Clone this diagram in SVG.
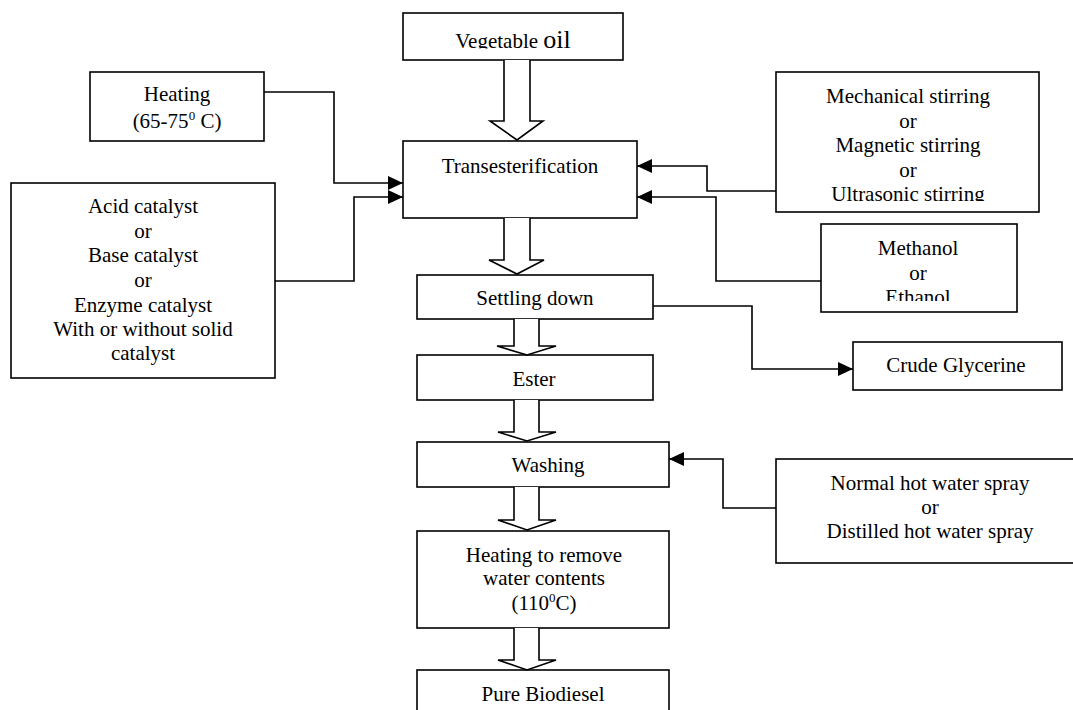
<svg xmlns="http://www.w3.org/2000/svg" width="1073" height="710" viewBox="0 0 1073 710">
<style>
.box{fill:#fff;stroke:#000;stroke-width:1.6}
.t{font-family:'Liberation Serif','DejaVu Serif',serif;font-size:21px;fill:#000;text-anchor:middle}
.c{fill:none;stroke:#000;stroke-width:1.6}
.h{fill:#fff;stroke:#000;stroke-width:1.6;stroke-linejoin:miter}
.sup{font-size:13px}
</style>
<defs>
<marker id="ah" markerUnits="userSpaceOnUse" markerWidth="15" markerHeight="14" viewBox="0 0 15 14" refX="15" refY="7" orient="auto">
<path d="M0,0 L15,7 L0,14 z" fill="#000"/>
</marker>
<clipPath id="cVeg"><rect x="403" y="13" width="220" height="35.5"/></clipPath>
<clipPath id="cMech"><rect x="776" y="72" width="263" height="129"/></clipPath>
<clipPath id="cMeth"><rect x="821" y="224" width="196" height="77"/></clipPath>
</defs>
<rect width="1073" height="710" fill="#fff"/>

<g id="vegetable-oil">
<rect class="box" x="403" y="13" width="220" height="47"/>
<text class="t" x="513" y="48" clip-path="url(#cVeg)">Vegetable <tspan font-size="26">oil</tspan></text>
</g>
<g id="heating">
<rect class="box" x="90" y="72" width="174" height="69"/>
<text class="t" x="177" y="101">Heating</text>
<text class="t" x="177" y="128">(65-75<tspan class="sup" dy="-8">0</tspan><tspan dy="8"> C)</tspan></text>
</g>
<g id="transesterification">
<rect class="box" x="403" y="141" width="234" height="77"/>
<text class="t" x="520" y="173">Transesterification</text>
</g>
<g id="catalyst">
<rect class="box" x="11" y="183" width="264" height="195"/>
<text class="t" x="143" y="213">Acid catalyst</text>
<text class="t" x="143" y="237.5">or</text>
<text class="t" x="143" y="262">Base catalyst</text>
<text class="t" x="143" y="286.5">or</text>
<text class="t" x="143" y="311.5">Enzyme catalyst</text>
<text class="t" x="143" y="336">With or without solid</text>
<text class="t" x="143" y="360">catalyst</text>
</g>
<g id="stirring">
<rect class="box" x="776" y="72" width="263" height="140"/>
<g clip-path="url(#cMech)">
<text class="t" x="908" y="103">Mechanical stirring</text>
<text class="t" x="908" y="127.5">or</text>
<text class="t" x="908" y="152">Magnetic stirring</text>
<text class="t" x="908" y="176.5">or</text>
<text class="t" x="908" y="201">Ultrasonic stirring</text>
</g>
</g>
<g id="alcohol">
<rect class="box" x="821" y="224" width="196" height="88"/>
<g clip-path="url(#cMeth)">
<text class="t" x="918" y="255">Methanol</text>
<text class="t" x="918" y="279.5">or</text>
<text class="t" x="918" y="304">Ethanol</text>
</g>
</g>
<g id="settling">
<rect class="box" x="417" y="275" width="236" height="44"/>
<text class="t" x="535" y="305">Settling down</text>
</g>
<g id="crude-glycerine">
<rect class="box" x="853" y="342" width="209" height="48"/>
<text class="t" x="956" y="372">Crude Glycerine</text>
</g>
<g id="ester">
<rect class="box" x="417" y="355" width="236" height="45"/>
<text class="t" x="534" y="386">Ester</text>
</g>
<g id="washing">
<rect class="box" x="417" y="442" width="252" height="45"/>
<text class="t" x="548" y="472">Washing</text>
</g>
<g id="water-spray">
<rect class="box" x="776" y="459" width="300" height="104"/>
<text class="t" x="930" y="490">Normal hot water spray</text>
<text class="t" x="930" y="513.5">or</text>
<text class="t" x="930" y="537.5">Distilled hot water spray</text>
</g>
<g id="heating-remove">
<rect class="box" x="417" y="531" width="252" height="97"/>
<text class="t" x="544" y="562">Heating to remove</text>
<text class="t" x="544" y="585">water contents</text>
<text class="t" x="544" y="609.5">(110<tspan class="sup" dy="-8">0</tspan><tspan dy="8">C)</tspan></text>
</g>
<g id="pure-biodiesel">
<rect class="box" x="417" y="670" width="252" height="50"/>
<text class="t" x="543" y="701">Pure Biodiesel</text>
</g>

<g id="connectors">
<path class="h" d="M504,60 V121 H490 L517,140 L543,121 H530 V60"/>
<path class="h" d="M504,218 V260 H489 L517,274 L544,260 H530 V218"/>
<path class="h" d="M514,319 V346 H497 L527,355 L556,346 H539 V319"/>
<path class="h" d="M514,400 V432 H498 L527,441 L556,432 H539 V400"/>
<path class="h" d="M514,487 V520 H498 L527,530 L556,520 H539 V487"/>
<path class="h" d="M514,628 V660 H498 L527,670 L556,660 H539 V628"/>
<path class="c" d="M264,92 H334 V183 H403" marker-end="url(#ah)"/>
<path class="c" d="M275,281 H354 V197 H403" marker-end="url(#ah)"/>
<path class="c" d="M776,191 H707 V166 H637" marker-end="url(#ah)"/>
<path class="c" d="M821,281 H716 V197 H637" marker-end="url(#ah)"/>
<path class="c" d="M653,306 H752 V369 H853" marker-end="url(#ah)"/>
<path class="c" d="M776,508 H723 V459 H669" marker-end="url(#ah)"/>
</g>
</svg>
